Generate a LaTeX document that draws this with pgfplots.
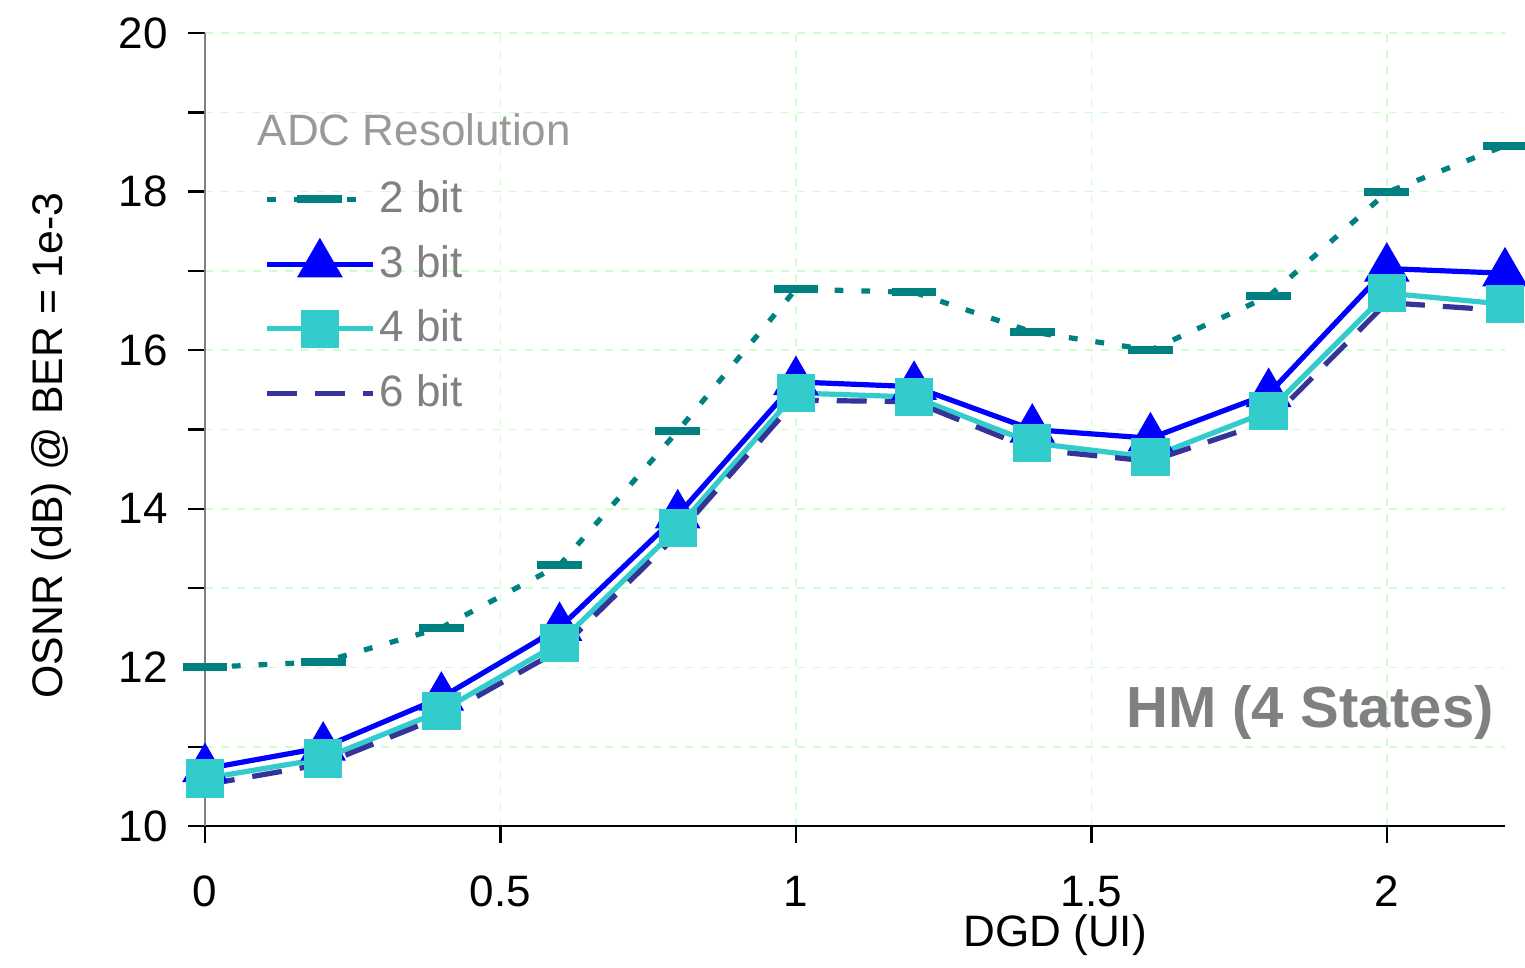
\documentclass[border=0pt]{standalone}
\usepackage{fontspec}
\setmainfont{Liberation Sans}
\usepackage{pgfplots}
\pgfplotsset{compat=1.18}
\definecolor{ctwo}{RGB}{0,128,128}
\definecolor{cthree}{RGB}{0,0,255}
\definecolor{cfour}{RGB}{51,204,204}
\definecolor{csix}{RGB}{51,51,153}
\definecolor{cgrid}{RGB}{204,255,204}
\definecolor{ctxt}{RGB}{128,128,128}
\definecolor{ctitle}{RGB}{153,153,153}
\begin{document}
\begin{tikzpicture}
\path[use as bounding box] (-51.25pt,-35.25pt) rectangle (330pt,206.5pt);
\begin{axis}[
  scale only axis, width=325pt, height=198.25pt,
  xmin=0, xmax=2.2, ymin=10, ymax=20,
  axis x line*=bottom, axis y line*=left,
  axis line style={-, line width=0.6pt},
  y axis line style={draw=ctxt},
  x axis line style={draw=black},
  xtick={0,0.5,1,1.5,2}, xticklabels={0,0.5,1,1.5,2},
  ytick={10,12,14,16,18,20},
  minor ytick={11,13,15,17,19},
  tick align=outside,
  major tick length=4.25pt, minor tick length=4.25pt,
  tick style={line width=0.6pt, color=black},
  ymajorgrids, yminorgrids, xmajorgrids,
  grid style={cgrid, dash pattern=on 2pt off 2pt, line width=0.4pt},
  minor grid style={cgrid, dash pattern=on 2pt off 2pt, line width=0.4pt},
  tick label style={font=\fontsize{11}{13}\selectfont},
  /pgf/number format/assume math mode=true,
  xticklabel style={yshift=-4.75pt},
  yticklabel style={xshift=-1.5pt},
  ylabel={OSNR (dB) @ BER = 1e-3},
  ylabel style={font=\fontsize{10.7}{13}\selectfont, at={(rel axis cs:0,0.48)}, anchor=south, yshift=30pt},
  xlabel={DGD (UI)},
  xlabel style={font=\fontsize{11}{13}\selectfont, at={(rel axis cs:0.654,0)}, anchor=north, yshift=-18.5pt},
  clip=false,
  legend cell align=left,
  legend image code/.code={\draw[mark repeat=2,mark phase=2] plot coordinates {(0pt,0pt) (13.25pt,0pt) (26.5pt,0pt)};},
  legend style={at={(rel axis cs:0.045,0.82)}, anchor=north west, draw=none, fill=none,
    font=\fontsize{11}{13}\selectfont, text=ctxt, row sep=4.7pt, inner sep=0pt,
    nodes={inner sep=1pt}},
]
\addplot[ctwo, line width=1.3pt, dash pattern=on 2.2pt off 4.5pt, mark=-, mark size=5.6pt,
  mark options={solid, line width=2pt}] coordinates {
(0,12.0) (0.2,12.07) (0.4,12.5) (0.6,13.29) (0.8,14.98) (1.0,16.77)
(1.2,16.73) (1.4,16.23) (1.6,16.0) (1.8,16.68) (2.0,17.99) (2.2,18.58)};
\addlegendentry{2 bit}
\addplot[cthree, line width=1.3pt, mark=triangle*, mark size=5.3pt, mark options={solid}] coordinates {
(0,10.72) (0.2,10.99) (0.4,11.62) (0.6,12.5) (0.8,13.92) (1.0,15.6)
(1.2,15.54) (1.4,15.0) (1.6,14.89) (1.8,15.45) (2.0,17.03) (2.2,16.97)};
\addlegendentry{3 bit}
\addplot[cfour, line width=1.3pt, mark=square*, mark size=4.15pt, mark options={solid}] coordinates {
(0,10.6) (0.2,10.85) (0.4,11.45) (0.6,12.31) (0.8,13.76) (1.0,15.46)
(1.2,15.41) (1.4,14.83) (1.6,14.65) (1.8,15.23) (2.0,16.72) (2.2,16.58)};
\addlegendentry{4 bit}
\addplot[csix, line width=1.3pt, dash pattern=on 7.5pt off 4.5pt] coordinates {
(0,10.52) (0.2,10.78) (0.4,11.38) (0.6,12.22) (0.8,13.68) (1.0,15.37)
(1.2,15.35) (1.4,14.75) (1.6,14.6) (1.8,15.1) (2.0,16.6) (2.2,16.5)};
\addlegendentry{6 bit}
\node[anchor=west, text=ctitle, font=\fontsize{11}{13}\selectfont, inner sep=0pt] at (rel axis cs:0.04,0.878) {ADC Resolution};
\node[anchor=east, text=ctxt, font=\fontsize{14.5}{16}\selectfont\bfseries, inner sep=0pt] at (rel axis cs:0.992,0.143) {HM (4 States)};
\end{axis}
\end{tikzpicture}
\end{document}
